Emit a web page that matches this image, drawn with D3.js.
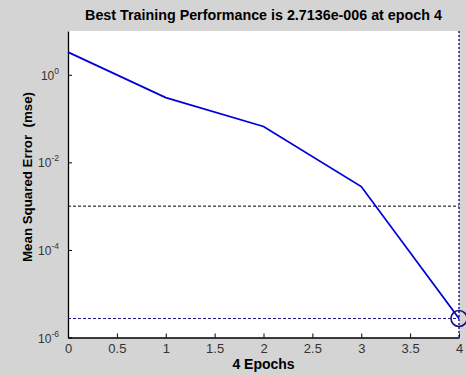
<!DOCTYPE html>
<html>
<head>
<meta charset="utf-8" />
<script src="https://d3js.org/d3.v7.min.js"></script>
<style>
  body { margin: 0; background: #d4d4d4; }
  svg { display: block; font-family: "Liberation Sans", Arial, sans-serif; }
</style>
</head>
<body>
<svg width="466" height="376"></svg>
<script>
// training record
var epochs = [0, 1, 2, 3, 4];
var perf = [3.3, 0.30, 0.066, 0.0028, 2.7136e-6];
var goal = 1e-3;
var bestEpoch = 4;
var bestPerf = 2.7136e-6;
var xTicks = [0, 0.5, 1, 1.5, 2, 2.5, 3, 3.5, 4];
var yTickExp = [0, -2, -4, -6];

var svg = d3.select("svg"),
    margin = { top: 31, right: 7, bottom: 38.5, left: 68 },
    width = +svg.attr("width") - margin.left - margin.right,
    height = +svg.attr("height") - margin.top - margin.bottom;

svg.append("rect").attr("width", 466).attr("height", 376).attr("fill", "#d4d4d4");

var g = svg.append("g").attr("transform", "translate(" + margin.left + "," + margin.top + ")");

var x = d3.scaleLinear().domain([0, 4]).range([0, width]);
var y = d3.scaleLog().domain([1e-6, 10]).range([height, 0]);

g.append("rect").attr("width", width).attr("height", height).attr("fill", "#fff");

// axes
var xAxis = g.append("g")
    .attr("transform", "translate(0," + height + ")")
    .call(d3.axisBottom(x).tickValues(xTicks).tickSizeInner(-4).tickSizeOuter(0).tickPadding(6)
        .tickFormat(function (d) { return d; }));
var yAxis = g.append("g")
    .call(d3.axisLeft(y).tickValues(yTickExp.map(function (e) { return Math.pow(10, e); }))
        .tickSizeInner(-4).tickSizeOuter(0).tickFormat(""));

[xAxis, yAxis].forEach(function (a) {
    a.select(".domain").attr("stroke", "#000").attr("stroke-width", 1.3);
    a.selectAll(".tick line").attr("stroke", "#000");
});
xAxis.selectAll(".tick text").attr("font-size", 13).attr("fill", "#333")
    .attr("font-family", "Liberation Sans, Arial, sans-serif");

// y tick labels 10^n
yTickExp.forEach(function (e) {
    var t = g.append("text")
        .attr("x", -9)
        .attr("y", y(Math.pow(10, e)) + 5)
        .attr("text-anchor", "end")
        .attr("font-size", 12)
        .attr("fill", "#333");
    t.append("tspan").text("10");
    t.append("tspan").attr("dy", -6).attr("font-size", 8.5).text(e);
});

// goal line
g.append("line")
    .attr("x1", 0).attr("x2", width)
    .attr("y1", y(goal)).attr("y2", y(goal))
    .attr("stroke", "#000").attr("stroke-width", 1)
    .attr("stroke-dasharray", "3,2");

// best lines
g.append("line")
    .attr("x1", 0).attr("x2", width)
    .attr("y1", y(bestPerf)).attr("y2", y(bestPerf))
    .attr("stroke", "#1c1c8c").attr("stroke-width", 1)
    .attr("stroke-dasharray", "3,2");
g.append("line")
    .attr("x1", x(bestEpoch)).attr("x2", x(bestEpoch))
    .attr("y1", 0).attr("y2", height)
    .attr("stroke", "#1c1c8c").attr("stroke-width", 1.5)
    .attr("stroke-dasharray", "2,2");

// performance line
var line = d3.line()
    .x(function (d, i) { return x(epochs[i]); })
    .y(function (d) { return y(d); });
g.append("path")
    .datum(perf)
    .attr("d", line)
    .attr("fill", "none")
    .attr("stroke", "#0000d8")
    .attr("stroke-width", 1.8);

// best marker
g.append("circle")
    .attr("cx", x(bestEpoch)).attr("cy", y(bestPerf))
    .attr("r", 8)
    .attr("fill", "none")
    .attr("stroke", "#101080")
    .attr("stroke-width", 1.6);

// title and labels
svg.append("text")
    .attr("x", margin.left + width / 2)
    .attr("y", 20)
    .attr("text-anchor", "middle")
    .attr("font-size", 14.3)
    .attr("font-weight", "bold")
    .text("Best Training Performance is 2.7136e-006 at epoch 4");

svg.append("text")
    .attr("x", margin.left + width / 2)
    .attr("y", 369)
    .attr("text-anchor", "middle")
    .attr("font-size", 14)
    .attr("font-weight", "bold")
    .text("4 Epochs");

svg.append("text")
    .attr("transform", "translate(32,177) rotate(-90)")
    .attr("text-anchor", "middle")
    .attr("font-size", 13.3)
    .attr("font-weight", "bold")
    .attr("xml:space", "preserve")
    .text("Mean Squared Error  (mse)");
</script>
</body>
</html>
